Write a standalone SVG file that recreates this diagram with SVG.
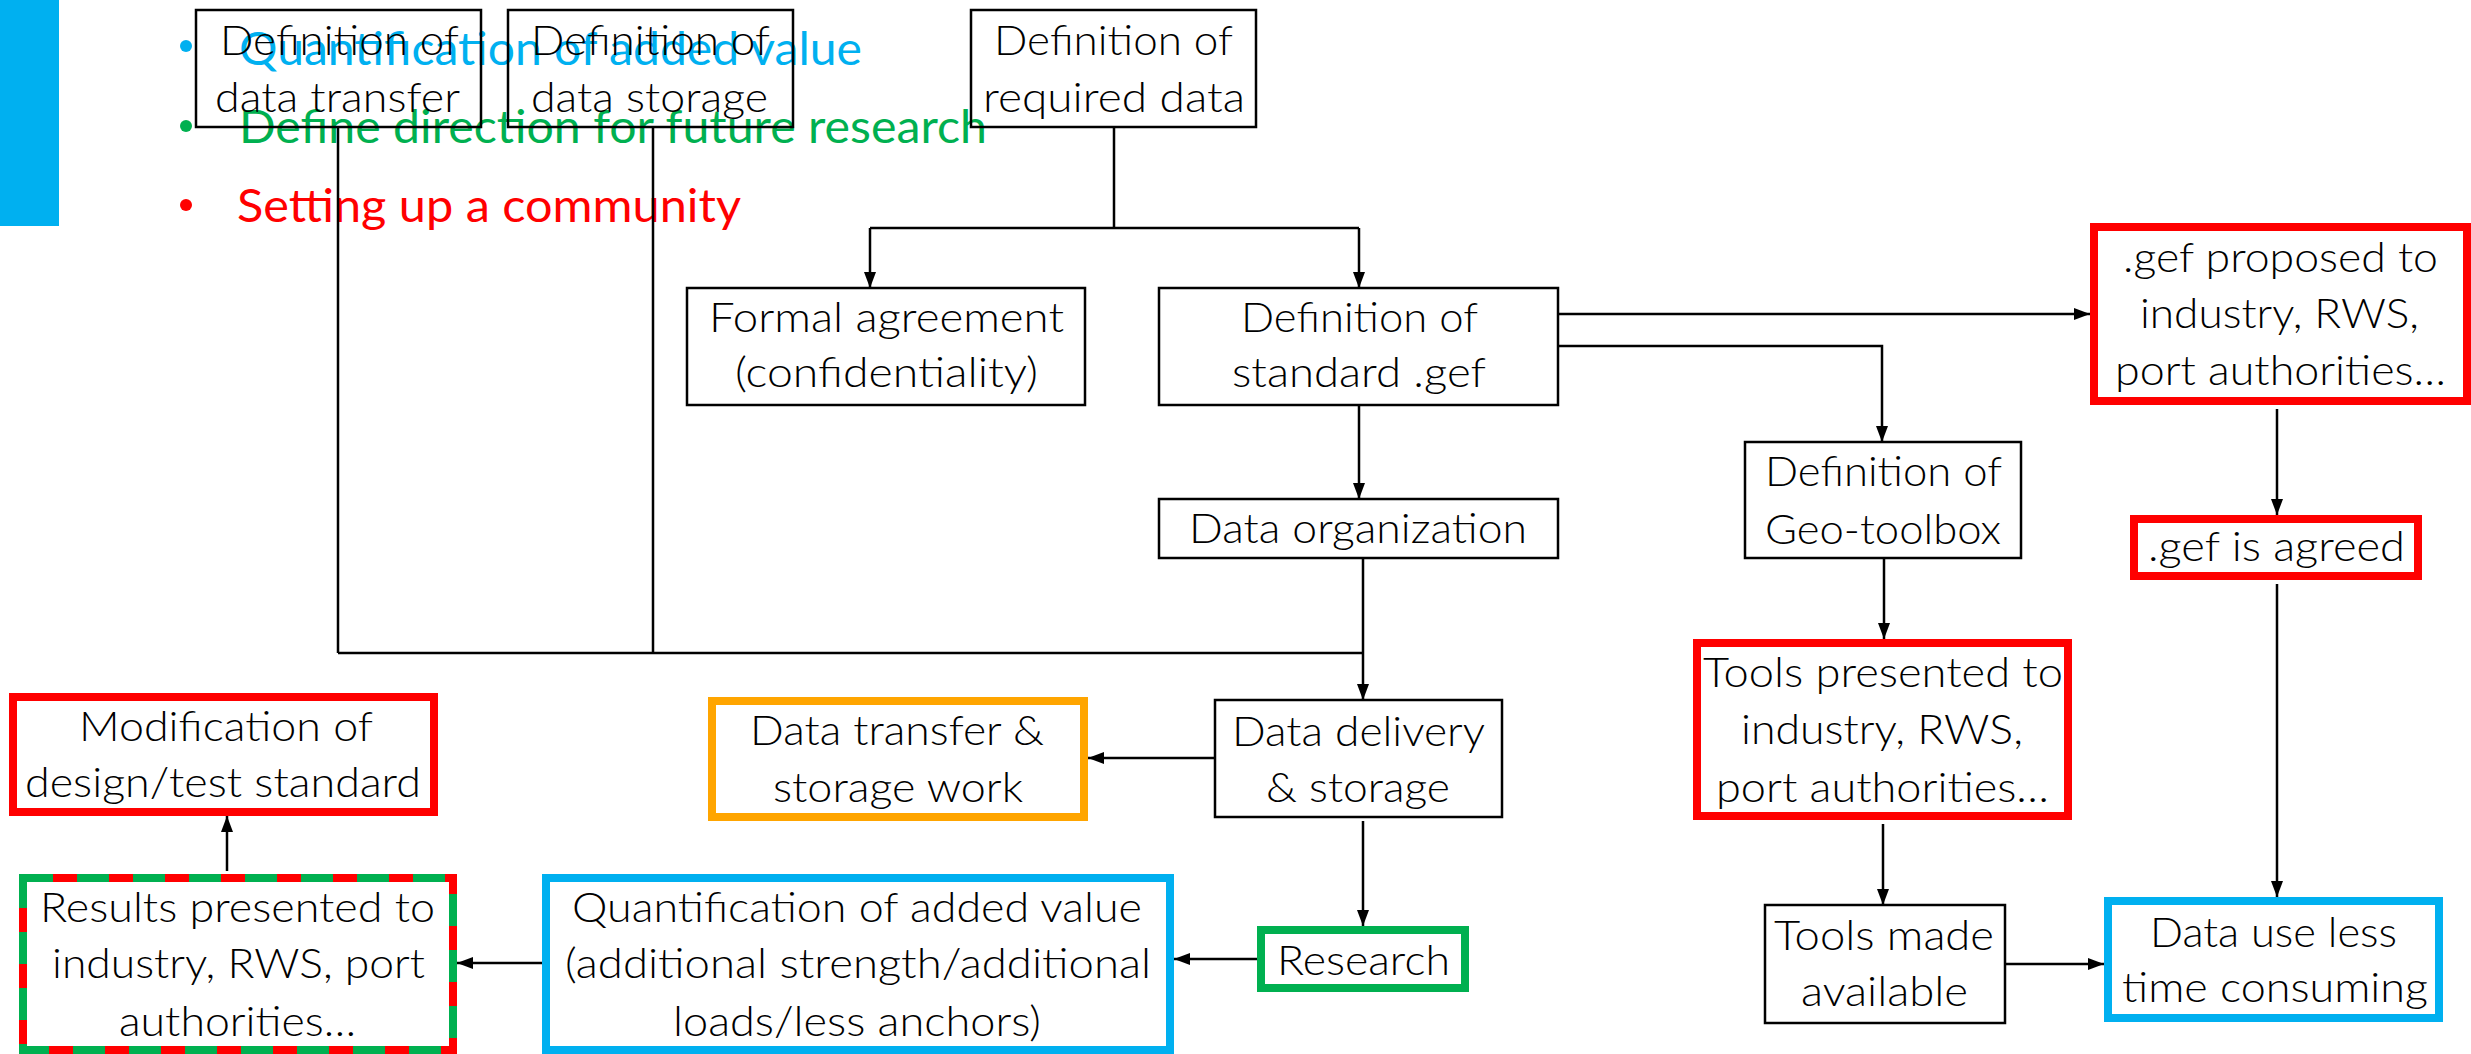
<svg xmlns="http://www.w3.org/2000/svg" width="2471" height="1054" viewBox="0 0 2471 1054">
  <style>
    .box { fill: #ffffff; stroke: #000000; stroke-width: 2.5; }
    .open { fill: none; stroke: #000000; stroke-width: 2.5; }
    .red { fill: #ffffff; stroke: #ff0000; stroke-width: 8; }
    .blue { fill: #ffffff; stroke: #00b0f0; stroke-width: 8; }
    .green { fill: #ffffff; stroke: #00b050; stroke-width: 8; }
    .orange { fill: #ffffff; stroke: #ffa500; stroke-width: 8; }
    .lbl { font-family: Lato, "Liberation Sans", sans-serif; font-weight: 300; font-size: 42px; fill: #000000; }
    .bul { font-family: Lato, "Liberation Sans", sans-serif; font-weight: 400; font-size: 46px; }
    .wire { fill: none; stroke: #000000; stroke-width: 2.5; }
    .arr { fill: none; stroke: #000000; stroke-width: 2.5; marker-end: url(#head); }
  </style>
  <defs>
    <marker id="head" viewBox="0 -7 16 14" refX="16" refY="0" markerWidth="16" markerHeight="14" markerUnits="userSpaceOnUse" orient="auto">
      <path d="M0,-6 L16,0 L0,6 z" fill="#000000"/>
    </marker>
  </defs>

  <rect width="2471" height="1054" fill="#ffffff"/>

  <!-- title accent bar and goals list -->
  <g id="goals">
    <rect x="0" y="0" width="59" height="226" fill="#00b0f0"/>
    <circle cx="186" cy="46" r="6" fill="#00b0f0"/>
    <text class="bul" x="239" y="65" textLength="623" lengthAdjust="spacingAndGlyphs" fill="#00b0f0">Quantification of added value</text>
    <circle cx="186" cy="126" r="6" fill="#00b050"/>
    <text class="bul" x="239" y="143" textLength="748" lengthAdjust="spacingAndGlyphs" fill="#00b050">Define direction for future research</text>
    <circle cx="186" cy="205" r="6" fill="#ff0000"/>
    <text class="bul" x="237" y="222" textLength="504" lengthAdjust="spacingAndGlyphs" fill="#ff0000">Setting up a community</text>
  </g>

  <!-- connectors -->
  <g id="connectors">
    <path class="wire" d="M1114,127 V228 M870,228 H1359"/>
    <path class="arr" d="M870,228 V288"/>
    <path class="arr" d="M1359,228 V288"/>
    <path class="wire" d="M338,127 V653 M653,127 V653 M338,653 H1363 M1363,558 V653"/>
    <path class="arr" d="M1363,653 V700"/>
    <path class="arr" d="M1359,405 V499"/>
    <path class="arr" d="M1558,314 H2090"/>
    <path class="arr" d="M1558,346 H1882 V442"/>
    <path class="arr" d="M2277,409 V515"/>
    <path class="arr" d="M2277,584 V897"/>
    <path class="arr" d="M1884,558 V639"/>
    <path class="arr" d="M1883,824 V905"/>
    <path class="arr" d="M2005,964 H2104"/>
    <path class="arr" d="M1215,758 H1088"/>
    <path class="arr" d="M1363,821 V926"/>
    <path class="arr" d="M1257,959 H1174"/>
    <path class="arr" d="M542,963 H457"/>
    <path class="arr" d="M227,871 V816"/>
  </g>

  <g id="def-transfer">
    <rect class="open" x="196" y="10" width="285" height="117"/>
    <text class="lbl" x="220" y="55" textLength="239" lengthAdjust="spacingAndGlyphs">Definition of</text>
    <text class="lbl" x="215" y="112" textLength="245" lengthAdjust="spacingAndGlyphs">data transfer</text>
  </g>
  <g id="def-storage">
    <rect class="open" x="508" y="10" width="285" height="117"/>
    <text class="lbl" x="531" y="55" textLength="239" lengthAdjust="spacingAndGlyphs">Definition of</text>
    <text class="lbl" x="531" y="112" textLength="237" lengthAdjust="spacingAndGlyphs">data storage</text>
  </g>
  <g id="def-required">
    <rect class="open" x="971" y="10" width="285" height="117"/>
    <text class="lbl" x="994" y="55" textLength="239" lengthAdjust="spacingAndGlyphs">Definition of</text>
    <text class="lbl" x="983" y="112" textLength="262" lengthAdjust="spacingAndGlyphs">required data</text>
  </g>
  <g id="formal-agreement">
    <rect class="box" x="687" y="288" width="398" height="117"/>
    <text class="lbl" x="709" y="332" textLength="355" lengthAdjust="spacingAndGlyphs">Formal agreement</text>
    <text class="lbl" x="735" y="387" textLength="303" lengthAdjust="spacingAndGlyphs">(confidentiality)</text>
  </g>
  <g id="def-standard">
    <rect class="box" x="1159" y="288" width="399" height="117"/>
    <text class="lbl" x="1241" y="332" textLength="237" lengthAdjust="spacingAndGlyphs">Definition of</text>
    <text class="lbl" x="1232" y="387" textLength="254" lengthAdjust="spacingAndGlyphs">standard .gef</text>
  </g>
  <g id="data-organization">
    <rect class="box" x="1159" y="499" width="399" height="59"/>
    <text class="lbl" x="1189" y="543" textLength="338" lengthAdjust="spacingAndGlyphs">Data organization</text>
  </g>
  <g id="data-delivery">
    <rect class="box" x="1215" y="700" width="287" height="117"/>
    <text class="lbl" x="1232" y="746" textLength="253" lengthAdjust="spacingAndGlyphs">Data delivery</text>
    <text class="lbl" x="1266" y="802" textLength="184" lengthAdjust="spacingAndGlyphs">&amp; storage</text>
  </g>
  <g id="research">
    <rect class="green" x="1261" y="930" width="204" height="58"/>
    <text class="lbl" x="1277" y="975" textLength="173" lengthAdjust="spacingAndGlyphs">Research</text>
  </g>
  <g id="transfer-work">
    <rect class="orange" x="712" y="701" width="372" height="116"/>
    <text class="lbl" x="750" y="745" textLength="294" lengthAdjust="spacingAndGlyphs">Data transfer &amp;</text>
    <text class="lbl" x="773" y="802" textLength="250" lengthAdjust="spacingAndGlyphs">storage work</text>
  </g>
  <g id="modification">
    <rect class="red" x="13" y="697" width="421" height="115"/>
    <text class="lbl" x="79" y="741" textLength="294" lengthAdjust="spacingAndGlyphs">Modification of</text>
    <text class="lbl" x="25" y="797" textLength="396" lengthAdjust="spacingAndGlyphs">design/test standard</text>
  </g>
  <g id="results">
    <rect x="23" y="878" width="430" height="172" fill="#ffffff" stroke="#00b050" stroke-width="8"/>
    <rect x="23" y="878" width="430" height="172" fill="none" stroke="#ff0000" stroke-width="8" stroke-dasharray="24 32" stroke-dashoffset="-30"/>
    <text class="lbl" x="40" y="922" textLength="395" lengthAdjust="spacingAndGlyphs">Results presented to</text>
    <text class="lbl" x="52" y="978" textLength="373" lengthAdjust="spacingAndGlyphs">industry, RWS, port</text>
    <text class="lbl" x="119" y="1036" textLength="237" lengthAdjust="spacingAndGlyphs">authorities…</text>
  </g>
  <g id="quantification">
    <rect class="blue" x="546" y="878" width="624" height="172"/>
    <text class="lbl" x="572" y="922" textLength="570" lengthAdjust="spacingAndGlyphs">Quantification of added value</text>
    <text class="lbl" x="565" y="978" textLength="586" lengthAdjust="spacingAndGlyphs">(additional strength/additional</text>
    <text class="lbl" x="673" y="1036" textLength="368" lengthAdjust="spacingAndGlyphs">loads/less anchors)</text>
  </g>
  <g id="geo-toolbox">
    <rect class="box" x="1745" y="442" width="276" height="116"/>
    <text class="lbl" x="1765" y="486" textLength="237" lengthAdjust="spacingAndGlyphs">Definition of</text>
    <text class="lbl" x="1765" y="544" textLength="236" lengthAdjust="spacingAndGlyphs">Geo-toolbox</text>
  </g>
  <g id="tools-presented">
    <rect class="red" x="1697" y="643" width="371" height="173"/>
    <text class="lbl" x="1703" y="687" textLength="360" lengthAdjust="spacingAndGlyphs">Tools presented to</text>
    <text class="lbl" x="1741" y="744" textLength="282" lengthAdjust="spacingAndGlyphs">industry, RWS,</text>
    <text class="lbl" x="1716" y="802" textLength="333" lengthAdjust="spacingAndGlyphs">port authorities…</text>
  </g>
  <g id="tools-available">
    <rect class="box" x="1765" y="905" width="240" height="118"/>
    <text class="lbl" x="1774" y="950" textLength="220" lengthAdjust="spacingAndGlyphs">Tools made</text>
    <text class="lbl" x="1801" y="1006" textLength="167" lengthAdjust="spacingAndGlyphs">available</text>
  </g>
  <g id="data-use">
    <rect class="blue" x="2108" y="901" width="331" height="117"/>
    <text class="lbl" x="2150" y="947" textLength="247" lengthAdjust="spacingAndGlyphs">Data use less</text>
    <text class="lbl" x="2122" y="1002" textLength="306" lengthAdjust="spacingAndGlyphs">time consuming</text>
  </g>
  <g id="gef-agreed">
    <rect class="red" x="2134" y="519" width="284" height="57"/>
    <text class="lbl" x="2148" y="561" textLength="257" lengthAdjust="spacingAndGlyphs">.gef is agreed</text>
  </g>
  <g id="gef-proposed">
    <rect class="red" x="2094" y="227" width="373" height="174"/>
    <text class="lbl" x="2123" y="272" textLength="315" lengthAdjust="spacingAndGlyphs">.gef proposed to</text>
    <text class="lbl" x="2140" y="328" textLength="279" lengthAdjust="spacingAndGlyphs">industry, RWS,</text>
    <text class="lbl" x="2115" y="385" textLength="331" lengthAdjust="spacingAndGlyphs">port authorities…</text>
  </g>
</svg>
